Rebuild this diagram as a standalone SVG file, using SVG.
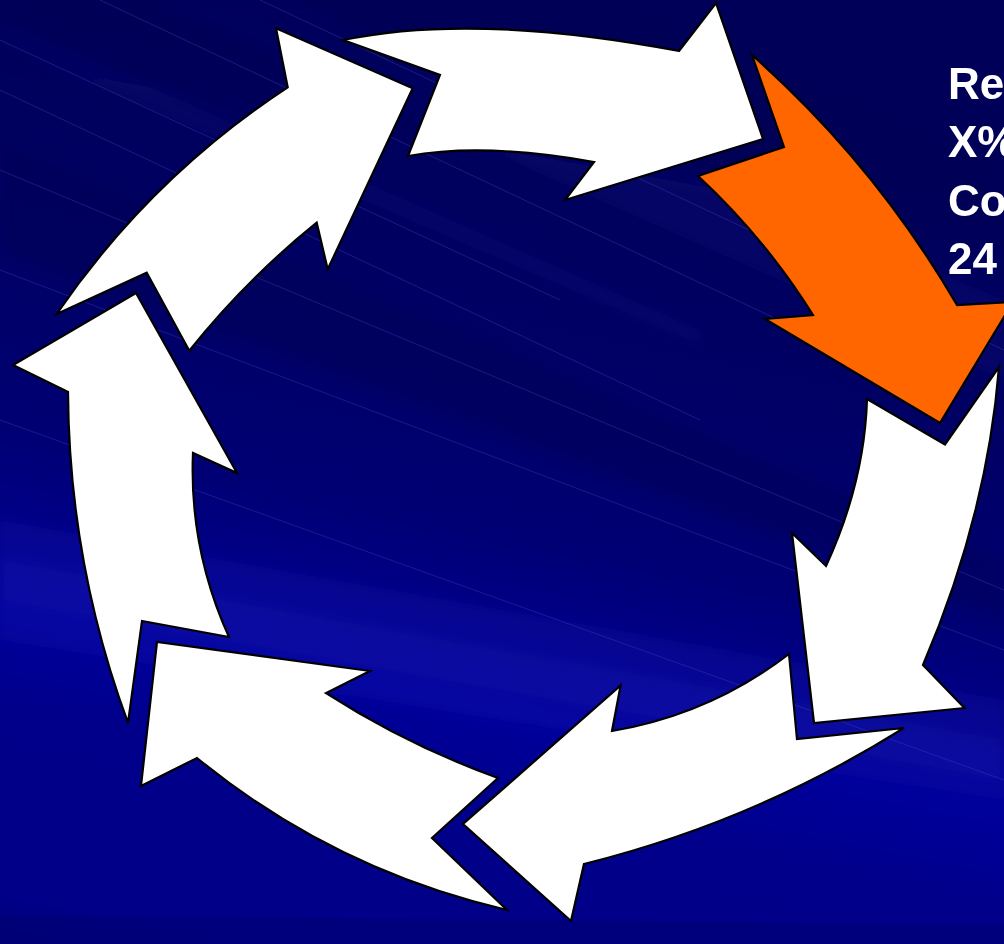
<svg xmlns="http://www.w3.org/2000/svg" width="1004" height="944" viewBox="0 0 1004 944">
  <defs>
    <linearGradient id="bg" gradientUnits="userSpaceOnUse" x1="190" y1="0" x2="0" y2="944">
      <stop offset="0" stop-color="#000058"/>
      <stop offset="0.3" stop-color="#000066"/>
      <stop offset="0.48" stop-color="#000074"/>
      <stop offset="0.6" stop-color="#000090"/>
      <stop offset="0.66" stop-color="#00009c"/>
      <stop offset="0.76" stop-color="#00008a"/>
      <stop offset="0.95" stop-color="#000088"/>
      <stop offset="1" stop-color="#000078"/>
    </linearGradient>
    <filter id="soft" x="-10%" y="-10%" width="120%" height="120%">
      <feGaussianBlur stdDeviation="6"/>
    </filter>
    <style>
      .arrow { stroke: #000000; stroke-width: 2.2; stroke-linejoin: miter; }
      .white { fill: #ffffff; }
      .orange { fill: #ff6600; }
      .streak { fill: #3c3cd0; }
      .line { stroke: #4a4ac0; stroke-width: 1; fill: none; opacity: 0.35; }
      .label { font-family: "Liberation Sans", Arial, sans-serif; font-weight: bold; font-size: 44px; fill: #ffffff; }
    </style>
  </defs>

  <!-- background -->
  <rect x="0" y="0" width="1004" height="944" fill="url(#bg)"/>
  <g id="background-streaks">
    <g filter="url(#soft)">
      <polygon class="streak" opacity="0.12" points="0,520 1004,700 1004,800 0,640"/>
      <polygon class="streak" opacity="0.10" points="0,560 1004,740 1004,780 0,600"/>
      <polygon class="streak" opacity="0.08" points="300,0 1004,300 1004,380 150,0"/>
      <polygon fill="#000050" opacity="0.35" points="0,140 1004,560 1004,620 0,250"/>
      <polygon fill="#000050" opacity="0.25" points="0,0 600,0 1004,180 1004,240 0,60"/>
      <polygon class="streak" opacity="0.07" points="0,20 700,330 700,345 0,45"/>
    </g>
    <line class="line" x1="0" y1="40" x2="560" y2="300"/>
    <line class="line" x1="0" y1="90" x2="700" y2="420"/>
    <line class="line" x1="0" y1="170" x2="1004" y2="590"/>
    <line class="line" x1="100" y1="0" x2="800" y2="330"/>
    <line class="line" x1="260" y1="0" x2="1004" y2="350"/>
    <line class="line" x1="0" y1="270" x2="1004" y2="650"/>
    <line class="line" x1="0" y1="420" x2="1004" y2="780"/>
    <polygon fill="#000070" opacity="0.5" points="0,915 1004,925 1004,944 0,944"/>
  </g>

  <!-- arrows (cycle, clockwise) -->
  <g id="arrow-top">
    <path class="arrow white" d="M343,40 L440,75 L408,156 Q485,142.4 594,162 L565,200 L763,139 L716,3 L679,51 Q475,12.5 343,40 Z"/>
  </g>
  <g id="arrow-top-right">
    <path class="arrow orange" d="M698,176 L784,147 L752,55 Q874.6,163.5 957,305 L1013,302 L940,423 L765,319 L813,315 Q764.7,237.9 698,176 Z"/>
  </g>
  <g id="arrow-right">
    <path class="arrow white" d="M867,399 L945,444.5 L999,367 Q987,516 923,665 L964.5,708 L814,723 L792,533 L826,566 Q864.5,482.5 867,399 Z"/>
  </g>
  <g id="arrow-bottom-right">
    <path class="arrow white" d="M789,654 L797,739 L904,728 Q754.8,821.4 584,864 L571,921 L463,824 L620.6,685.5 L612,731 Q710,714.6 789,654 Z"/>
  </g>
  <g id="arrow-bottom-left">
    <path class="arrow white" d="M507,910 L432,838 L498,778 Q407,745 326,693 L370,671 L157,642 L141,786 L197,758 Q334,870 507,910 Z"/>
  </g>
  <g id="arrow-left">
    <path class="arrow white" d="M229,637 L142,621 L128,723 Q69,563 68,392 L13,365 L136,293 L237,473 L193,453 Q189,549 229,637 Z"/>
  </g>
  <g id="arrow-top-left">
    <path class="arrow white" d="M56.7,314 L146.7,272.7 L189.3,350.7 Q246,279.7 316.7,222.7 L327.7,269.3 L412.7,88.3 L276,28.3 L287.7,87.3 Q149.8,177.9 56.7,314 Z"/>
  </g>

  <g id="connectors"></g>

  <!-- text (cut off at right edge, as in the reference) -->
  <g id="label">
    <text class="label" x="948" y="99">Re</text>
    <text class="label" x="948" y="157">X%</text>
    <text class="label" x="948" y="215.5">Co</text>
    <text class="label" x="948" y="274">24</text>
  </g>
</svg>
